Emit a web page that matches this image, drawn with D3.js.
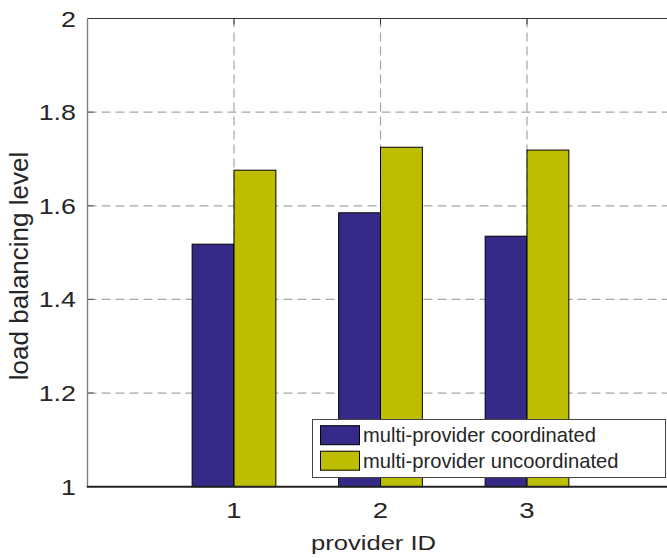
<!DOCTYPE html>
<html>
<head>
<meta charset="utf-8">
<script src="https://cdn.jsdelivr.net/npm/d3@7/dist/d3.min.js"></script>
<style>
  html, body { margin: 0; padding: 0; background: #fff; }
  svg { display: block; font-family: "Liberation Sans", Arial, Helvetica, sans-serif; }
</style>
</head>
<body>
<svg id="chart" width="667" height="558"></svg>
<script>
// Load balancing level per provider, two schemes
const providers = [1, 2, 3];
const coordinated = [1.518, 1.585, 1.535];
const uncoordinated = [1.676, 1.725, 1.719];
const seriesNames = ["multi-provider coordinated", "multi-provider uncoordinated"];
const seriesColors = ["#352a87", "#bebe00"];
const yTicks = [1, 1.2, 1.4, 1.6, 1.8, 2];
const xTicks = [1, 2, 3];

const svg = d3.select("#chart");
const W = 667, H = 558;

// Axes box (right side runs past the canvas edge)
const plotL = 87.5, plotR = 673.5, plotT = 18.5, plotB = 486.7;
const x = d3.scaleLinear().domain([0, 4]).range([plotL, plotR]);
const y = d3.scaleLinear().domain([1, 2]).range([plotB, plotT]);

const textColor = "#262626";
const gridColor = "#a6a6a6";

// Text drawn with a horizontal stretch (wide Helvetica-like lettering)
function label(parent, px, py, str, size, sx, anchor) {
  return parent.append("text")
    .attr("transform", `translate(${px},${py}) scale(${sx},1)`)
    .attr("text-anchor", anchor)
    .attr("font-size", size)
    .attr("fill", textColor)
    .text(str);
}

// Grid
const grid = svg.append("g");
grid.append("g").selectAll("line").data(yTicks.filter(v => v > 1 && v < 2)).join("line")
  .attr("x1", plotL).attr("x2", W)
  .attr("y1", d => y(d)).attr("y2", d => y(d))
  .attr("stroke", gridColor).attr("stroke-width", 1.2)
  .attr("stroke-dasharray", "9,5");
grid.append("g").selectAll("line").data(xTicks).join("line")
  .attr("x1", d => x(d)).attr("x2", d => x(d))
  .attr("y1", plotT).attr("y2", plotB)
  .attr("stroke", gridColor).attr("stroke-width", 1.2)
  .attr("stroke-dasharray", "9,5");

// Bars: two per provider, touching, each 2/7 of a unit wide
const barW = 2 / 7;
const series = [coordinated, uncoordinated];
series.forEach((vals, si) => {
  svg.append("g").selectAll("rect").data(providers).join("rect")
    .attr("x", d => x(d - barW + si * barW))
    .attr("width", x(barW) - x(0))
    .attr("y", (d, i) => y(vals[i]))
    .attr("height", (d, i) => y(1) - y(vals[i]))
    .attr("fill", seriesColors[si])
    .attr("stroke", "#000").attr("stroke-width", 1);
});

// Axis lines
svg.append("line").attr("x1", plotL).attr("x2", W).attr("y1", plotT).attr("y2", plotT)
  .attr("stroke", "#333").attr("stroke-width", 1.2);
svg.append("line").attr("x1", plotL).attr("x2", plotL).attr("y1", plotT).attr("y2", plotB)
  .attr("stroke", "#808080").attr("stroke-width", 1.4);
svg.append("line").attr("x1", plotL - 0.7).attr("x2", W).attr("y1", plotB).attr("y2", plotB)
  .attr("stroke", "#222").attr("stroke-width", 2);

// Tick marks (inward)
svg.append("g").selectAll("line").data(yTicks.filter(v => v > 1 && v < 2)).join("line")
  .attr("x1", plotL).attr("x2", plotL + 6)
  .attr("y1", d => y(d)).attr("y2", d => y(d))
  .attr("stroke", "#555").attr("stroke-width", 1);
svg.append("g").selectAll("line").data(xTicks).join("line")
  .attr("x1", d => x(d)).attr("x2", d => x(d))
  .attr("y1", plotT).attr("y2", plotT + 6)
  .attr("stroke", "#333").attr("stroke-width", 1);

// Tick labels
const yLab = svg.append("g");
yTicks.forEach(v => label(yLab, 76, y(v) + 8, d3.format("")(v), 22, 1.22, "end"));
const xLab = svg.append("g");
xTicks.forEach(v => label(xLab, x(v), 518, String(v), 22, 1.25, "middle"));

// Axis titles
label(svg, 373.5, 550, "provider ID", 21, 1.22, "middle");
svg.append("text")
  .attr("transform", "translate(27.5,266) rotate(-90)")
  .attr("text-anchor", "middle").attr("font-size", 26).attr("fill", textColor)
  .text("load balancing level");

// Legend
const lg = svg.append("g");
lg.append("rect").attr("x", 312.5).attr("y", 419.5).attr("width", 353).attr("height", 58)
  .attr("fill", "#fff").attr("stroke", "#444").attr("stroke-width", 1);
seriesNames.forEach((name, i) => {
  const ry = 425.7 + i * 25.5;
  lg.append("rect").attr("x", 320.5).attr("y", ry).attr("width", 39).attr("height", 19)
    .attr("fill", seriesColors[i]).attr("stroke", "#000").attr("stroke-width", 1);
  label(lg, 363, 442 + i * 25.5, name, 21, 0.96, "start");
});
</script>
</body>
</html>
